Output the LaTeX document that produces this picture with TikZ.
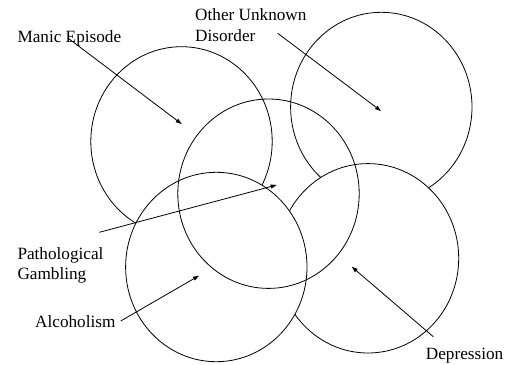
\documentclass[tikz,border=0pt]{standalone}
\usepackage{fontspec}
\setmainfont{Liberation Serif}
\usetikzlibrary{arrows.meta,shapes.geometric}
\begin{document}
\begin{tikzpicture}[x=1pt,y=-1pt,
  venn/.style={ellipse,draw=black,line width=0.8pt,inner sep=0pt,
    minimum width=181.4pt,minimum height=189.4pt},
  opaque/.style={venn,fill=white},
  lbl/.style={inner sep=0pt,anchor=base west,align=left,
    font=\fontsize{17.2}{20.2}\selectfont},
  pointer/.style={line width=0.8pt,-{Stealth[length=6pt,width=4pt,inset=0pt]}}]
\useasboundingbox[fill=white] (0,0) rectangle (510,364);
% circles
\node[venn]   (manic) at (181.5,141.4) {};
\node[venn]   (other) at (381.3,107.0) {};
\node[opaque] (depr)  at (368.0,258.3) {};
\node[opaque] (alc)   at (216.3,267.0) {};
\node[venn]   (gamb)  at (268.5,193.7) {};
% labels
\node[lbl] (tmanic) at (17.3,42.3) {Manic Episode};
\node[lbl,anchor=north west] (tother) at (195,8.8) {Other Unknown\\Disorder};
\node[lbl,anchor=north west] (tgamb) at (17.3,247) {Pathological\\Gambling};
\node[lbl] (talc) at (35,327.7) {Alcoholism};
\node[lbl] (tdepr) at (425.7,359) {Depression};
% arrow ends
\coordinate (smanic) at (68.3,38.3);
\coordinate (emanic) at (181.7,124);
\coordinate (sother) at (277.7,33.3);
\coordinate (eother) at (381,111);
\coordinate (sgamb) at (99.3,232.3);
\coordinate (egamb) at (276.7,185);
\coordinate (salc) at (120.7,321);
\coordinate (ealc) at (199,275.7);
\coordinate (sdepr) at (433.3,336.7);
\coordinate (edepr) at (351.7,266.7);
\draw[pointer] (smanic) -- (emanic);
\draw[pointer] (sother) -- (eother);
\draw[pointer] (sgamb) -- (egamb);
\draw[pointer] (salc) -- (ealc);
\draw[pointer] (sdepr) -- (edepr);
\end{tikzpicture}
\end{document}
